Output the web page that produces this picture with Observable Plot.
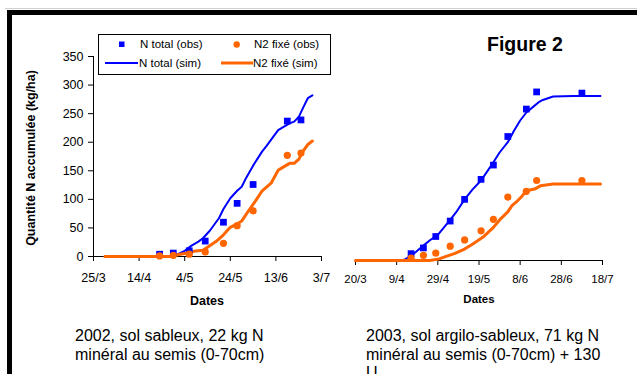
<!DOCTYPE html>
<html><head><meta charset="utf-8">
<script src="https://cdn.jsdelivr.net/npm/d3@7"></script>
<script src="https://cdn.jsdelivr.net/npm/@observablehq/plot@0.6"></script>
<style>
body{margin:0;background:#fff;}
#fig{position:relative;width:637px;height:374px;overflow:hidden;font-family:"Liberation Sans",Arial,sans-serif;background:#fff;color:#000;}
.abs{position:absolute;white-space:nowrap;}
</style></head><body><div id="fig"></div>
<script>
// ---------- data ----------
const yTicks = [0, 50, 100, 150, 200, 250, 300, 350];
const xTicks2002 = ["2002-03-25","2002-04-14","2002-05-04","2002-05-24","2002-06-13","2002-07-03"];
const xTicks2003 = ["2003-03-20","2003-04-09","2003-04-29","2003-05-19","2003-06-08","2003-06-28","2003-07-18"];

// 2002 observations
const obsDates2002 = ["2002-04-23","2002-04-29","2002-05-06","2002-05-13","2002-05-21","2002-05-27","2002-06-03","2002-06-18","2002-06-24"];
const nTotalObs2002 = [4, 6, 10, 27, 60, 93, 126, 237, 239];
const n2FixObs2002 = [1, 2, 4, 8, 23, 54, 80, 177, 181];
// 2002 simulations
const simTotalDates2002 = ["2002-03-30","2002-04-28","2002-05-01","2002-05-04","2002-05-07","2002-05-10","2002-05-12","2002-05-15","2002-05-19","2002-05-21","2002-05-24","2002-05-27","2002-05-29","2002-05-31","2002-06-03","2002-06-07","2002-06-09","2002-06-11","2002-06-14","2002-06-16","2002-06-19","2002-06-21","2002-06-23","2002-06-25","2002-06-27","2002-06-29"];
const simTotal2002 = [0, 0, 4, 10, 19, 26, 32, 45, 67, 83, 102, 115, 122, 138, 159, 184, 194, 205, 221, 226, 233, 236, 244, 261, 277, 282];
const simFixDates2002 = ["2002-03-30","2002-04-28","2002-05-01","2002-05-05","2002-05-08","2002-05-12","2002-05-15","2002-05-18","2002-05-21","2002-05-24","2002-05-27","2002-05-29","2002-06-01","2002-06-04","2002-06-07","2002-06-11","2002-06-14","2002-06-16","2002-06-19","2002-06-21","2002-06-23","2002-06-25","2002-06-27","2002-06-29"];
const simFix2002 = [0, 0, 3, 6, 9, 11, 19, 27, 38, 51, 57, 62, 80, 97, 115, 129, 151, 156, 163, 163, 170, 185, 196, 202];

// 2003 observations
const obsDates2003 = ["2003-04-16","2003-04-22","2003-04-28","2003-05-05","2003-05-12","2003-05-20","2003-05-26","2003-06-02","2003-06-11","2003-06-16","2003-07-08"];
const nTotalObs2003 = [12, 22, 42, 69, 107, 142, 167, 217, 265, 295, 293];
const n2FixObs2003 = [4, 9, 13, 25, 36, 52, 72, 111, 121, 140, 140];
// 2003 simulations
const simTotalDates2003 = ["2003-03-20","2003-04-11","2003-04-13","2003-04-16","2003-04-19","2003-04-22","2003-04-25","2003-04-29","2003-05-02","2003-05-05","2003-05-08","2003-05-12","2003-05-16","2003-05-20","2003-05-23","2003-05-26","2003-05-29","2003-06-02","2003-06-05","2003-06-08","2003-06-11","2003-06-14","2003-06-17","2003-06-19","2003-06-24","2003-07-04","2003-07-17"];
const simTotal2003 = [0, 0, 2, 8, 17, 26, 35, 45, 58, 71, 85, 107, 125, 140, 156, 172, 189, 207, 227, 245, 259, 268, 277, 281, 287, 288, 288];
const simFixDates2003 = ["2003-03-20","2003-04-25","2003-04-29","2003-05-02","2003-05-07","2003-05-12","2003-05-16","2003-05-21","2003-05-26","2003-05-29","2003-06-02","2003-06-04","2003-06-06","2003-06-09","2003-06-11","2003-06-15","2003-06-18","2003-06-24","2003-07-04","2003-07-17"];
const simFix2003 = [0, 0, 2, 6, 12, 20, 29, 41, 58, 71, 85, 96, 102, 113, 122, 125, 131, 134, 134, 134];

// ---------- helpers ----------
const parse = d3.utcParse("%Y-%m-%d");
const fmt = d3.utcFormat("%-d/%-m");
const BLUE = "#0000ff", ORANGE = "#ff6600";
const rows = (dates, vals) => dates.map((d, i) => ({date: parse(d), value: vals[i]}));
const fig = document.getElementById("fig");

function addDiv(html, css) {
  const d = document.createElement("div");
  d.className = "abs";
  d.innerHTML = html;
  Object.assign(d.style, css);
  fig.appendChild(d);
  return d;
}

// frame
addDiv("", {left: "5px", top: "8px", width: "700px", height: "1px", background: "#d0d0d0"});
addDiv("", {left: "7px", top: "10px", width: "700px", height: "500px", borderTop: "5px solid #000", borderLeft: "5px solid #000", boxSizing: "border-box"});

function panel({ticks, domain, obsDates, tot, fix, stDates, st, sfDates, sf, width, height, mt, mb, ml, mr, left, top, showY, fontSize, xPad}) {
  const start = parse(domain[0]);
  const p = Plot.plot({
    width, height, marginTop: mt, marginBottom: mb, marginLeft: ml, marginRight: mr,
    style: {fontFamily: "'Liberation Sans', Arial, sans-serif", fontSize: fontSize, background: "transparent", color: "#000", overflow: "visible"},
    x: {type: "utc", domain: [start, parse(domain[1])], ticks: ticks.map(parse), tickFormat: fmt, tickSize: 5, tickPadding: xPad, label: null},
    y: showY ? {domain: [0, 350], ticks: yTicks, tickSize: 5, tickPadding: 5, label: null} : {domain: [0, 350], axis: null},
    marks: [
      Plot.ruleY([0], {stroke: "#000", strokeWidth: 1}),
      showY ? Plot.ruleX([start], {stroke: "#000", strokeWidth: 1}) : null,
      Plot.line(rows(stDates, st), {x: "date", y: "value", stroke: BLUE, strokeWidth: 2}),
      Plot.line(rows(sfDates, sf), {x: "date", y: "value", stroke: ORANGE, strokeWidth: 3}),
      Plot.dot(rows(obsDates, tot), {x: "date", y: "value", symbol: "square", r: 3.8, fill: BLUE, stroke: "none"}),
      Plot.dot(rows(obsDates, fix), {x: "date", y: "value", symbol: "circle", r: 3.6, fill: ORANGE, stroke: "none"})
    ]
  });
  p.style.position = "absolute";
  p.style.left = left + "px";
  p.style.top = top + "px";
  fig.appendChild(p);
}

panel({ticks: xTicks2002, domain: ["2002-03-25", "2002-07-03"], obsDates: obsDates2002, tot: nTotalObs2002, fix: n2FixObs2002,
  stDates: simTotalDates2002, st: simTotal2002, sfDates: simFixDates2002, sf: simFix2002,
  width: 330, height: 290, mt: 56, mb: 34, ml: 93, mr: 9, left: 0, top: 0, showY: true, fontSize: "12.5px", xPad: 12});

panel({ticks: xTicks2003, domain: ["2003-03-20", "2003-07-18"], obsDates: obsDates2003, tot: nTotalObs2003, fix: n2FixObs2003,
  stDates: simTotalDates2003, st: simTotal2003, sfDates: simFixDates2003, sf: simFix2003,
  width: 300, height: 294, mt: 60, mb: 34, ml: 25, mr: 28, left: 330, top: 0, showY: false, fontSize: "11.5px", xPad: 9});

// axis titles
addDiv("Quantité N accumulée (kg/ha)", {left: "31px", top: "158px", fontSize: "12.5px", fontWeight: "bold", transform: "translate(-50%,-50%) rotate(-90deg)"});
addDiv("Dates", {left: "207px", top: "301px", fontSize: "12.5px", fontWeight: "bold", transform: "translate(-50%,-50%)"});
addDiv("Dates", {left: "479px", top: "299px", fontSize: "11.5px", fontWeight: "bold", transform: "translate(-50%,-50%)"});

// title
addDiv("Figure 2", {left: "487px", top: "33px", fontSize: "19.5px", fontWeight: "bold"});

// captions
addDiv("2002, sol sableux, 22 kg N<br>minéral au semis (0-70cm)", {left: "75px", top: "327px", fontSize: "16px", lineHeight: "18.5px"});
addDiv("2003, sol argilo-sableux, 71 kg N<br>minéral au semis (0-70cm) + 130<br>U", {left: "366px", top: "327px", fontSize: "16px", lineHeight: "18.5px"});

// legend
const legendHTML = `
<svg width="234" height="42" style="display:block">
  <rect x="0.5" y="0.5" width="232" height="40" fill="#fff" stroke="#000"/>
  <rect x="21" y="7.5" width="5.5" height="5.5" fill="${BLUE}"/>
  <text x="42" y="14" font-size="11.5" font-family="Liberation Sans, Arial">N total (obs)</text>
  <circle cx="138.7" cy="10.5" r="3.2" fill="${ORANGE}"/>
  <text x="156" y="14" font-size="11.5" font-family="Liberation Sans, Arial">N2 fixé (obs)</text>
  <line x1="7" x2="40" y1="29" y2="29" stroke="${BLUE}" stroke-width="2"/>
  <text x="41" y="33" font-size="11.5" font-family="Liberation Sans, Arial">N total (sim)</text>
  <line x1="123" x2="155" y1="29" y2="29" stroke="${ORANGE}" stroke-width="3"/>
  <text x="155" y="33" font-size="11.5" font-family="Liberation Sans, Arial">N2 fixé (sim)</text>
</svg>`;
addDiv(legendHTML, {left: "98px", top: "34px"});
</script></body></html>
